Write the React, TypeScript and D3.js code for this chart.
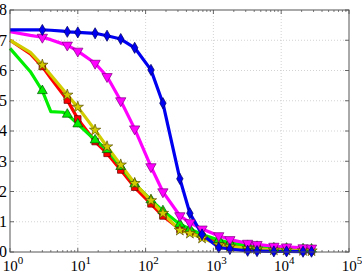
import * as d3 from 'd3';

// x positions of line vertices (log axis)
const xValues = [1, 2, 3, 4, 6, 7, 10, 18, 27, 43, 69, 120, 180, 320, 450, 680, 1200, 1750, 3200, 4400, 7800, 12000, 21000, 28000];
// markers are drawn only at these x
const markerX = [3, 7, 10, 18, 27, 43, 69, 120, 180, 320, 450, 680, 1200, 1750, 3200, 4400, 7800, 12000, 21000, 28000];

const redValues = [7.0, 6.55, 6.13, 5.74, 5.22, 5.02, 4.4, 3.65, 3.26, 2.71, 2.14, 1.59, 1.19, 0.75, 0.67, 0.51, 0.3, 0.23, 0.16, 0.13, 0.09, 0.08, 0.06, 0.05];
const greenValues = [6.73, 5.96, 5.33, 4.64, 4.62, 4.55, 4.23, 3.7, 3.38, 2.82, 2.25, 1.72, 1.36, 0.92, 0.76, 0.58, 0.4, 0.3, 0.21, 0.18, 0.13, 0.12, 0.1, 0.09];
const yellowValues = [7.0, 6.6, 6.18, 5.85, 5.38, 5.19, 4.79, 4.03, 3.48, 2.88, 2.27, 1.7, 1.28, 0.72, 0.62, 0.46, 0.24, 0.18, 0.12, 0.1, 0.07, 0.06, 0.05, 0.04];
const magentaValues = [7.28, 7.16, 7.1, 7.02, 6.88, 6.84, 6.64, 6.24, 5.8, 5.0, 4.07, 2.82, 1.99, 1.2, 0.97, 0.76, 0.54, 0.41, 0.29, 0.25, 0.19, 0.17, 0.14, 0.13];
const blueValues = [7.34, 7.34, 7.34, 7.33, 7.3, 7.28, 7.26, 7.23, 7.15, 7.04, 6.75, 6.02, 4.92, 2.42, 1.28, 0.58, 0.15, 0.1, 0.04, 0.03, 0.02, 0.02, 0.01, 0.01];

const yTicks = [0, 1, 2, 3, 4, 5, 6, 7, 8];
const xDecades = [1, 10, 100, 1000, 10000, 100000];

const series = [
  { name: 'red', values: redValues, color: '#ff0000', edge: '#600000', symbol: d3.symbolSquare, size: 42, rotate: 0 },
  { name: 'green', values: greenValues, color: '#00ee00', edge: '#005000', symbol: d3.symbolTriangle, size: 42, rotate: 0 },
  { name: 'yellow', values: yellowValues, color: '#d0cc00', edge: '#5a5000', symbol: d3.symbolStar, size: 40, rotate: 0 },
  { name: 'magenta', values: magentaValues, color: '#ff00ff', edge: '#800080', symbol: d3.symbolTriangle, size: 46, rotate: 180 },
  { name: 'blue', values: blueValues, color: '#0000f0', edge: '#000060', symbol: d3.symbolDiamond, size: 36, rotate: 0 },
];

const W = 362;
const H = 273;
const margin = { top: 10, right: 13, bottom: 21, left: 10 };

export default function App() {
  const plotW = W - margin.left - margin.right;
  const plotH = H - margin.top - margin.bottom;
  const x = d3.scaleLog().domain([1, 100000]).range([0, plotW]);
  const y = d3.scaleLinear().domain([0, 8]).range([plotH, 0]);

  const line = d3.line<number>()
    .x((_, i) => x(xValues[i]))
    .y((d) => y(d));

  // minor ticks 2..9 per decade
  const minor: number[] = [];
  xDecades.slice(0, -1).forEach((d) => {
    for (let k = 2; k <= 9; k++) minor.push(d * k);
  });

  const font = '"Liberation Serif", "DejaVu Serif", serif';

  return (
    <svg width={W} height={H} style={{ position: 'absolute', left: 0, top: 0, background: '#fff' }}>
      <g transform={`translate(${margin.left},${margin.top})`}>
        {/* grid */}
        {xDecades.slice(1, -1).map((d) => (
          <line key={'gx' + d} x1={x(d)} x2={x(d)} y1={0} y2={plotH} stroke="#c8c8c8" strokeWidth={0.8} strokeDasharray="1,2" />
        ))}
        {yTicks.slice(1, -1).map((t) => (
          <line key={'gy' + t} x1={0} x2={plotW} y1={y(t)} y2={y(t)} stroke="#c8c8c8" strokeWidth={0.8} strokeDasharray="1,2" />
        ))}

        {/* ticks */}
        {minor.map((m) => (
          <g key={'mt' + m}>
            <line x1={x(m)} x2={x(m)} y1={plotH} y2={plotH - 2} stroke="#444" strokeWidth={0.7} />
            <line x1={x(m)} x2={x(m)} y1={0} y2={2} stroke="#444" strokeWidth={0.7} />
          </g>
        ))}
        {xDecades.map((d) => (
          <g key={'xt' + d}>
            <line x1={x(d)} x2={x(d)} y1={plotH} y2={plotH - 4} stroke="#444" strokeWidth={0.8} />
            <line x1={x(d)} x2={x(d)} y1={0} y2={4} stroke="#444" strokeWidth={0.8} />
          </g>
        ))}
        {yTicks.map((t) => (
          <g key={'yt' + t}>
            <line x1={0} x2={4} y1={y(t)} y2={y(t)} stroke="#444" strokeWidth={0.8} />
            <line x1={plotW} x2={plotW - 4} y1={y(t)} y2={y(t)} stroke="#444" strokeWidth={0.8} />
          </g>
        ))}

        {/* series lines */}
        {series.map((s) => (
          <path key={'l' + s.name} d={line(s.values) ?? ''} fill="none" stroke={s.color} strokeWidth={3.2} strokeLinejoin="round" />
        ))}
        {/* markers */}
        {series.map((s) => {
          const path = d3.symbol().type(s.symbol).size(s.size)() ?? '';
          return (
            <g key={'m' + s.name}>
              {markerX.map((mx) => {
                const i = xValues.indexOf(mx);
                return (
                  <path
                    key={mx}
                    d={path}
                    transform={`translate(${x(mx)},${y(s.values[i])}) rotate(${s.rotate})`}
                    fill={s.color}
                    stroke={s.edge}
                    strokeWidth={0.7}
                  />
                );
              })}
            </g>
          );
        })}

        {/* box */}
        <rect x={0} y={0} width={plotW} height={plotH} fill="none" stroke="#555" strokeWidth={1} />

        {/* y labels */}
        {yTicks.map((t) => (
          <text key={'yl' + t} x={-3} y={y(t)} dy="0.34em" textAnchor="end" fontFamily={font} fontSize={16} fill="#000">
            {t}
          </text>
        ))}
        {/* x labels */}
        {xDecades.map((d, i) => (
          <text key={'xl' + d} x={x(d) + 3} y={plotH + 18.5} textAnchor="middle" fontFamily={font} fontSize={15} fill="#000">
            10
            <tspan dy={-7} fontSize={11}>{i}</tspan>
          </text>
        ))}
      </g>
    </svg>
  );
}
